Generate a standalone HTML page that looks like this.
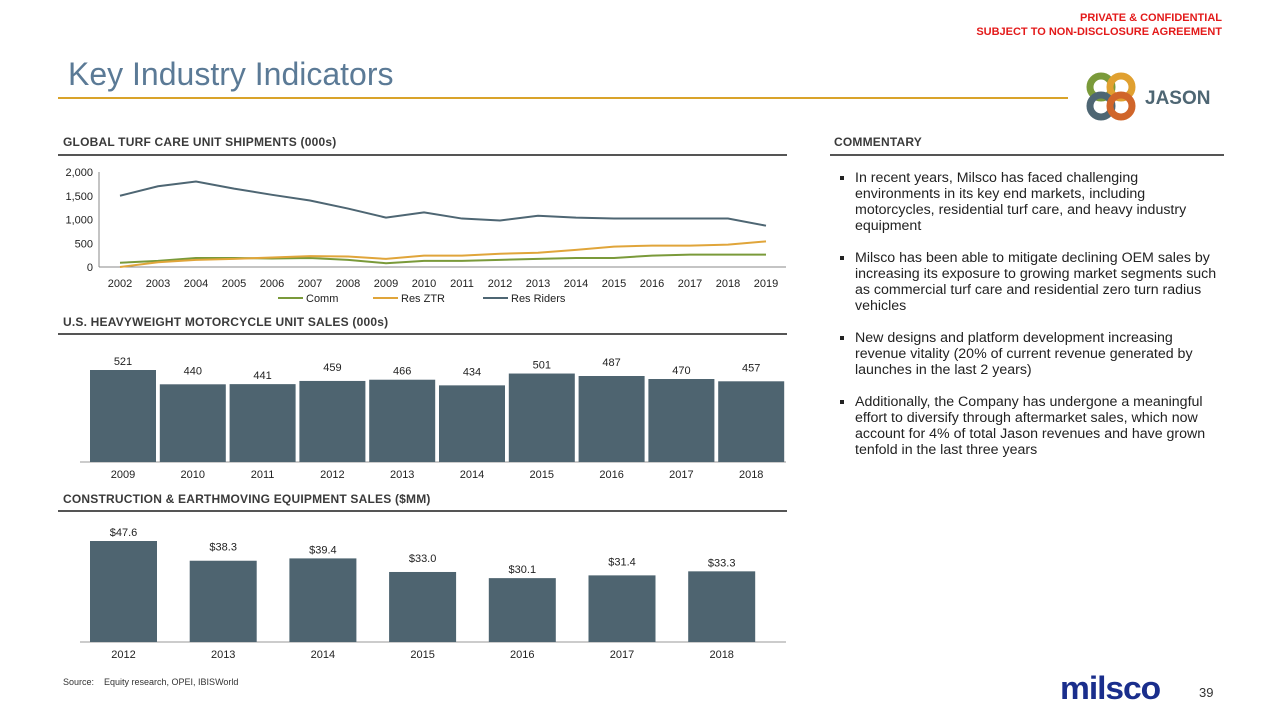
<!DOCTYPE html>
<html><head><meta charset="utf-8">
<style>
body{margin:0;width:1280px;height:720px;background:#fff;font-family:"Liberation Sans",sans-serif;position:relative;overflow:hidden}
.a{position:absolute}
.hdr{font-size:12px;font-weight:bold;color:#3a3a3a;letter-spacing:0.2px}
.rule{height:2px;background:#555}
.cm{font-size:14.2px;color:#222;line-height:16px}
.cm li{margin-bottom:16px}
</style></head><body>
<div class="a" style="right:58px;top:11px;color:#e31a1a;font-size:11px;font-weight:bold;text-align:right;line-height:14px">PRIVATE &amp; CONFIDENTIAL<br>SUBJECT TO NON-DISCLOSURE AGREEMENT</div>
<div class="a" style="left:68px;top:56px;font-size:32px;color:#5b7a96">Key Industry Indicators</div>
<div class="a" style="left:58px;top:97px;width:1010px;height:2px;background:#d9a32a"></div>
<svg class="a" style="left:1085px;top:70px" width="140" height="55">
<circle cx="16" cy="17" r="11" fill="none" stroke="#7a9a3a" stroke-width="7"/><circle cx="36" cy="17" r="11" fill="none" stroke="#e0a030" stroke-width="7"/>
<circle cx="16" cy="36" r="11" fill="none" stroke="#4e6673" stroke-width="7"/><circle cx="36" cy="36" r="11" fill="none" stroke="#d0652a" stroke-width="7"/>
<text x="60" y="34" font-family="Liberation Sans" font-weight="bold" font-size="19" fill="#4e6673">JASON</text></svg>

<div class="a hdr" style="left:63px;top:135px">GLOBAL TURF CARE UNIT SHIPMENTS (000s)</div>
<div class="a rule" style="left:58px;top:154px;width:729px"></div>
<div class="a hdr" style="left:63px;top:315px">U.S. HEAVYWEIGHT MOTORCYCLE UNIT SALES (000s)</div>
<div class="a rule" style="left:58px;top:333px;width:729px"></div>
<div class="a hdr" style="left:63px;top:492px">CONSTRUCTION &amp; EARTHMOVING EQUIPMENT SALES ($MM)</div>
<div class="a rule" style="left:58px;top:510px;width:729px"></div>
<div class="a hdr" style="left:834px;top:135px">COMMENTARY</div>
<div class="a rule" style="left:830px;top:154px;width:394px"></div>
<ul class="a cm" style="left:838px;top:170px;width:365px;margin:0;padding:0 0 0 17px;list-style:square">
<li>In recent years, Milsco has faced challenging environments in its key end markets, including motorcycles, residential turf care, and heavy industry equipment</li>
<li>Milsco has been able to mitigate declining OEM sales by increasing its exposure to growing market segments such as commercial turf care and residential zero turn radius vehicles</li>
<li>New designs and platform development increasing revenue vitality (20% of current revenue generated by launches in the last 2 years)</li>
<li>Additionally, the Company has undergone a meaningful effort to diversify through aftermarket sales, which now account for 4% of total Jason revenues and have grown tenfold in the last three years</li>
</ul>
<svg class="a" id="c1" style="left:0;top:0" width="800" height="720"></svg>
<div class="a" style="left:63px;top:677px;font-size:9px;color:#333">Source:&nbsp;&nbsp;&nbsp;&nbsp;Equity research, OPEI, IBISWorld</div>
<div class="a" style="left:1060px;top:670px;font-size:32px;font-weight:900;color:#1a2e8c;font-family:'Liberation Sans';letter-spacing:-1px;transform:scaleX(1.05);transform-origin:left">milsco</div>
<div class="a" style="left:1199px;top:685px;font-size:13px;color:#333">39</div>
<script>
const years=[2002,2003,2004,2005,2006,2007,2008,2009,2010,2011,2012,2013,2014,2015,2016,2017,2018,2019];
const comm=[90,130,190,190,180,190,150,80,130,130,150,170,190,190,240,260,260,260];
const resZtr=[0,100,150,170,200,230,220,170,240,240,280,300,360,430,450,450,470,540];
const resRiders=[1500,1700,1800,1650,1520,1400,1230,1040,1150,1020,980,1080,1040,1020,1020,1020,1020,870];
const yTicks=[0,500,1000,1500,2000];
const motoYears=["2009","2010","2011","2012","2013","2014","2015","2016","2017","2018"];
const motoVals=[521,440,441,459,466,434,501,487,470,457];
const consYears=["2012","2013","2014","2015","2016","2017","2018"];
const consVals=[47.6,38.3,39.4,33.0,30.1,31.4,33.3];
const consLabels=["$47.6","$38.3","$39.4","$33.0","$30.1","$31.4","$33.3"];
const svg=document.getElementById('c1');const NS='http://www.w3.org/2000/svg';
function mk(t,a,txt){const e=document.createElementNS(NS,t);for(const k in a)e.setAttribute(k,a[k]);if(txt!=null)e.textContent=txt;svg.appendChild(e);return e;}
const lx=i=>120+i*(646/(years.length-1)), ly=v=>267-v*95/2000;
let e=mk('line',{x1:99,y1:172,x2:99,y2:267,stroke:'#888'});
e=mk('line',{x1:99,y1:267,x2:786,y2:267,stroke:'#888'});
yTicks.forEach(t=>{const el=mk('text',{x:93,y:ly(t)+4,'text-anchor':'end','font-size':11,fill:'#222'},t.toLocaleString('en-US'));
});
years.forEach((y,i)=>{const el=mk('text',{x:lx(i),y:287,'text-anchor':'middle','font-size':11,fill:'#222'},y);
});
[[comm,'#7a9a3a','comm-line'],[resZtr,'#e0a53a','res-ztr-line'],[resRiders,'#4e6673','res-riders-line']].forEach(([d,c,n])=>{
const el=mk('polyline',{points:d.map((v,i)=>lx(i)+','+ly(v)).join(' '),fill:'none',stroke:c,'stroke-width':2});
});
[['Comm','#7a9a3a',278],['Res ZTR','#e0a53a',373],['Res Riders','#4e6673',483]].forEach(([t,c,x])=>{
let el=mk('line',{x1:x,y1:298,x2:x+25,y2:298,stroke:c,'stroke-width':2});
el=mk('text',{x:x+28,y:302,'font-size':11,fill:'#222'},t);});
function bars(cats,vals,labels,base,scale,x0,step,w,nm){
let el=mk('line',{x1:80,y1:base,x2:786,y2:base,stroke:'#999'});
vals.forEach((v,i)=>{const h=v*scale,x=x0+i*step;
let r=mk('rect',{x:x,y:base-h,width:w,height:h,fill:'#4e6470'});
let t=mk('text',{x:x+w/2,y:base-h-(i%2?10:5),'text-anchor':'middle','font-size':11,fill:'#222'},labels[i]);
t=mk('text',{x:x+w/2,y:base+16,'text-anchor':'middle','font-size':11,fill:'#222'},cats[i]);});}
bars(motoYears,motoVals,motoVals.map(String),462,92/521,90,69.8,66,'moto');
bars(consYears,consVals,consLabels,642,101/47.6,90,99.7,67,'construction');
</script>
</body></html>
